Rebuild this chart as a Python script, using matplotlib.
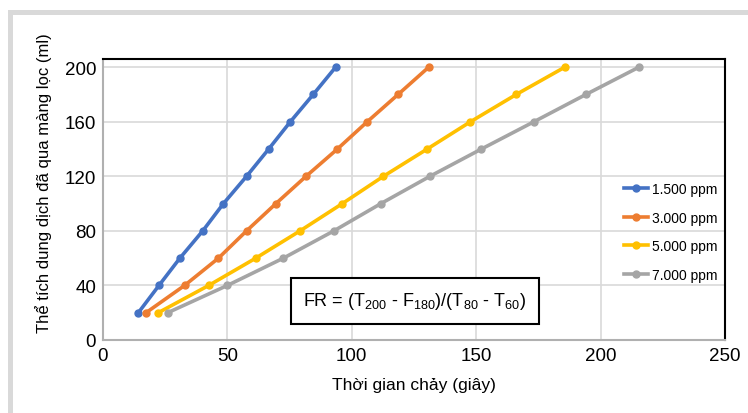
import matplotlib
matplotlib.use("Agg")
import matplotlib.pyplot as plt
from matplotlib import font_manager as fm
from matplotlib.patches import Rectangle

names = {f.name for f in fm.fontManager.ttflist}
fam = [n for n in ['Liberation Sans Narrow', 'Liberation Sans', 'DejaVu Sans'] if n in names]
plt.rcParams['font.family'] = fam
plt.rcParams['mathtext.fontset'] = 'custom'
plt.rcParams['mathtext.rm'] = fam[0]
plt.rcParams['mathtext.it'] = fam[0]

volume = [20, 40, 60, 80, 100, 120, 140, 160, 180, 200]
t_1500 = [14.2, 22.5, 30.9, 40.1, 48.4, 57.7, 66.6, 75.3, 84.5, 93.5]
t_3000 = [17.3, 32.8, 46.4, 57.7, 69.5, 81.6, 94.2, 106.2, 118.6, 130.9]
t_5000 = [22.2, 42.5, 61.4, 79.2, 96.2, 112.7, 130.3, 147.7, 166.1, 185.6]
t_7000 = [26.0, 50.0, 72.5, 92.8, 111.7, 131.4, 152.1, 173.2, 194.1, 215.4]
labels = ['1.500 ppm', '3.000 ppm', '5.000 ppm', '7.000 ppm']
colors = ['#4472C4', '#ED7D31', '#FFC000', '#A5A5A5']
xticks = [0, 50, 100, 150, 200, 250]
yticks = [0, 40, 80, 120, 160, 200]

fig = plt.figure(figsize=(7.48, 4.14), dpi=100)
W, H = 748, 414
# gray frame (left and top edges visible)
fig.add_artist(Rectangle((9.5/W, -0.05), 1.1, 1 - 12.5/H + 0.05, transform=fig.transFigure,
                         facecolor='none', edgecolor='#d9d9d9', linewidth=3.6, zorder=0))

ax = fig.add_axes([103/W, 1 - 341/H, (725-103)/W, (341-60)/H])
for t, lab, c in zip([t_1500, t_3000, t_5000, t_7000], labels, colors):
    ax.plot(t, volume, color=c, lw=2.6, marker='o', ms=5, label=lab, zorder=3)

ax.set_xlim(0, 250)
ax.set_ylim(0, 206)
ax.set_xticks(xticks)
ax.set_yticks(yticks)
ax.grid(True, color='#d9d9d9', lw=1.2)
ax.set_axisbelow(True)
for s in ['top', 'right']:
    ax.spines[s].set_color('black')
    ax.spines[s].set_linewidth(1.5)
for s in ['left', 'bottom']:
    ax.spines[s].set_color('#b0b0b0')
    ax.spines[s].set_linewidth(1.5)
ax.tick_params(length=0, labelsize=13.5, pad=5)

fig.text(414/W, 1 - 386/H, 'Thời gian chảy (giây)', ha='center', va='center', fontsize=12.5)
fig.text(44/W, 1 - 183/H, 'Thể tích dung dịch đã qua màng lọc (ml)', ha='center', va='center',
         rotation=90, fontsize=12)

ax.legend(loc='center left', bbox_to_anchor=((617-103)/622, 1 - (233-60)/281), frameon=False,
          fontsize=10, handlelength=1.7, handletextpad=0.3, labelspacing=1.05, borderpad=0)

ax.text(415, H - 302, r'FR = (T$_{200}$ - F$_{180}$)/(T$_{80}$ - T$_{60}$)', transform=None,
        ha='center', va='center', fontsize=13, zorder=5,
        bbox=dict(boxstyle='square,pad=0.7', facecolor='white', edgecolor='black', lw=1.5))

fig.savefig('out.png', dpi=100)
